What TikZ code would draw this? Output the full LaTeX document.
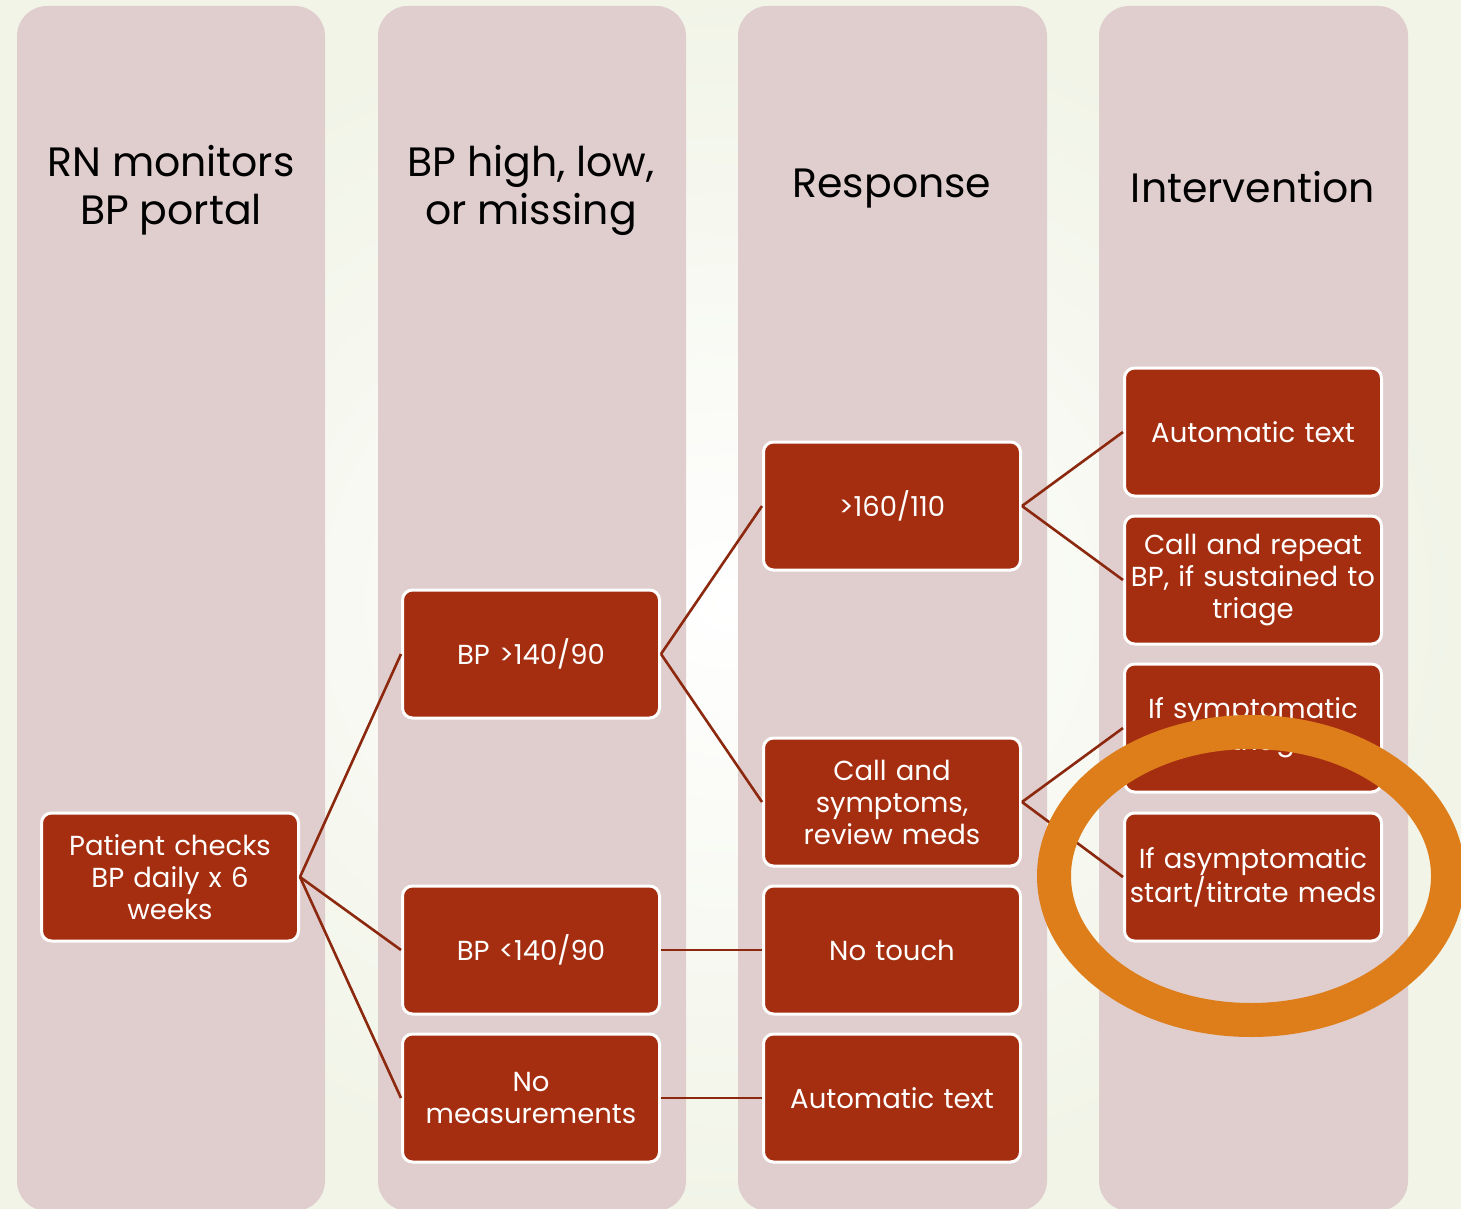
\documentclass[tikz,border=0pt]{standalone}
\usepackage{fontspec}
\setmainfont{Poppins}
\definecolor{colfill}{RGB}{224,206,206}
\definecolor{boxfill}{RGB}{165,46,16}
\definecolor{linecol}{RGB}{140,40,14}
\definecolor{ringcol}{RGB}{222,126,27}
\definecolor{bgout}{RGB}{241,244,231}
\tikzset{
  lane/.style={fill=colfill, rounded corners=30pt},
  header/.style={align=center, text=black, font=\fontsize{41}{48}\selectfont},
  stepbox/.style={draw=white, line width=3pt, fill=boxfill, rounded corners=10pt,
    minimum width=257pt, minimum height=128pt, text width=252pt, align=center,
    text=white, inner sep=0pt, font=\fontsize{27.5}{32}\selectfont},
  link/.style={draw=linecol, line width=2.6pt},
}
\begin{document}
\begin{tikzpicture}[x=1pt,y=1pt]
\useasboundingbox (0,0) rectangle (1461,-1209);
\shade[inner color=white, outer color=bgout] (0,0) rectangle (1461,-1209);
% lanes
\fill[lane] (17,-6) rectangle (325,-1211);
\fill[lane] (378,-6) rectangle (686,-1211);
\fill[lane] (738,-6) rectangle (1047,-1211);
\fill[lane] (1099,-6) rectangle (1408,-1211);
% headers
\node[header] (h1) at (171,-190) {RN monitors\\BP portal};
\node[header] (h2) at (531,-190) {BP high, low,\\or missing};
\node[header] (h3) at (892,-189) {Response};
\node[header] (h4) at (1253,-187) {Intervention};
% boxes
\node[stepbox] (pc) at (170,-877) {Patient checks\\BP daily x 6\\weeks};
\node[stepbox] (bph) at (531,-654) {BP >140/90};
\node[stepbox] (bpl) at (531,-950) {BP <140/90};
\node[stepbox] (nm) at (531,-1098) {No\\measurements};
\node[stepbox] (g160) at (892,-506) {>160/110};
\node[stepbox] (cs) at (892,-802) {Call and\\symptoms,\\review meds};
\node[stepbox] (nt) at (892,-950) {No touch};
\node[stepbox] (at3) at (892,-1098) {Automatic text};
\node[stepbox] (at4) at (1253,-432) {Automatic text};
\node[stepbox] (cr) at (1253,-580) {Call and repeat\\BP, if sustained to\\triage};
\node[stepbox] (isy) at (1253,-728) {If symptomatic\\to triage};
\node[stepbox] (ias) at (1253,-877) {If asymptomatic\\start/titrate meds};
% connectors
\draw[link] (pc.east) -- (bph.west);
\draw[link] (pc.east) -- (bpl.west);
\draw[link] (pc.east) -- (nm.west);
\draw[link] (bph.east) -- (g160.west);
\draw[link] (bph.east) -- (cs.west);
\draw[link] (bpl.east) -- (nt.west);
\draw[link] (nm.east) -- (at3.west);
\draw[link] (g160.east) -- (at4.west);
\draw[link] (g160.east) -- (cr.west);
\draw[link] (cs.east) -- (isy.west);
\draw[link] (cs.east) -- (ias.west);
% highlight ring
\coordinate (ringc) at (1251,-876);
\draw[draw=ringcol, line width=34pt] (ringc) ellipse [x radius=197pt, y radius=144pt];
\end{tikzpicture}
\end{document}
